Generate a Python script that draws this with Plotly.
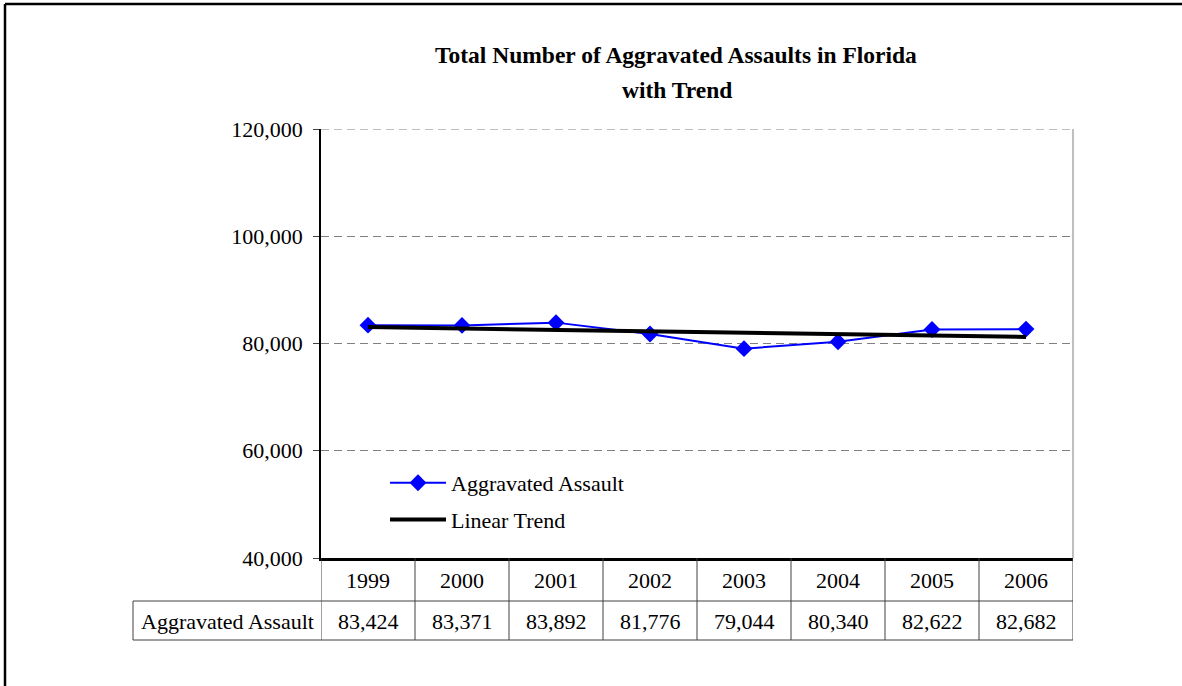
import numpy as np
import plotly.graph_objects as go

# ---------------- data ----------------
years = ["1999", "2000", "2001", "2002", "2003", "2004", "2005", "2006"]
assaults = [83424, 83371, 83892, 81776, 79044, 80340, 82622, 82682]
ytick_vals = [40000, 60000, 80000, 100000, 120000]
ytick_text = ["40,000", "60,000", "80,000", "100,000", "120,000"]
series_name = "Aggravated Assault"
trend_name = "Linear Trend"
title_line1 = "Total Number of Aggravated Assaults in Florida"
title_line2 = "with Trend"

# linear trend (least squares) over the series
idx = np.arange(len(assaults))
coef = np.polyfit(idx, assaults, 1)
trend = np.polyval(coef, idx)

# ---------------- layout geometry ----------------
W, H = 1182, 686
L, R, T, B = 321, 109, 129, 128
PW, PH = W - L - R, H - T - B


def py(p):
    return (H - B - p) / PH


def px(p):
    return (p - L) / PW


FONT = "Liberation Serif, Times New Roman, serif"
GRID = "#808080"
TBL = "#404040"

fig = go.Figure()
fig.add_trace(go.Scatter(
    x=years, y=assaults, name=series_name, mode="lines+markers",
    line=dict(color="#0000FF", width=2),
    marker=dict(symbol="diamond", size=13, color="#0000FF"),
    legendgroup="a",
))
fig.add_trace(go.Scatter(
    x=years, y=trend, name=trend_name, mode="lines",
    line=dict(color="#000000", width=4),
    legendgroup="b",
))

shapes = []
# top gridline (at the maximum tick) – plotly skips gridlines on the plot edge
shapes.append(dict(type="line", xref="paper", yref="y", x0=0, x1=1,
                   y0=ytick_vals[-1], y1=ytick_vals[-1],
                   line=dict(color=GRID, width=1, dash="8px,5px"), layer="below"))
# right border of plot area
shapes.append(dict(type="line", xref="paper", yref="paper", x0=1, x1=1, y0=0, y1=1,
                   line=dict(color=GRID, width=1)))
# table: vertical cell lines
for k in range(len(years) + 1):
    shapes.append(dict(type="line", xref="x", yref="paper", x0=k - 0.5, x1=k - 0.5,
                       y0=py(558), y1=py(640), line=dict(color=TBL, width=1)))
# table horizontal lines
for yy in (601, 640):
    shapes.append(dict(type="line", xref="paper", yref="paper", x0=px(133), x1=1,
                       y0=py(yy), y1=py(yy), line=dict(color=TBL, width=1)))
# label cell left edge
shapes.append(dict(type="line", xref="paper", yref="paper", x0=px(133), x1=px(133),
                   y0=py(601), y1=py(640), line=dict(color=TBL, width=1)))
# outer border (left + top visible)
shapes.append(dict(type="line", xref="paper", yref="paper", x0=px(5), x1=px(5),
                   y0=py(4), y1=py(700), line=dict(color="black", width=2.5)))
shapes.append(dict(type="line", xref="paper", yref="paper", x0=px(5), x1=px(1200),
                   y0=py(4), y1=py(4), line=dict(color="black", width=2.5)))

annotations = []
for i, (yr, v) in enumerate(zip(years, assaults)):
    annotations.append(dict(x=i, xref="x", y=py(580), yref="paper", text=yr,
                            showarrow=False, font=dict(family=FONT, size=22, color="black"),
                            xanchor="center", yanchor="middle"))
    annotations.append(dict(x=i, xref="x", y=py(621), yref="paper", text=f"{v:,}",
                            showarrow=False, font=dict(family=FONT, size=22, color="black"),
                            xanchor="center", yanchor="middle"))
annotations.append(dict(x=px(227), xref="paper", y=py(621), yref="paper", text=series_name,
                        showarrow=False, font=dict(family=FONT, size=22, color="black"),
                        xanchor="center", yanchor="middle"))
annotations.append(dict(x=px(676), xref="paper", y=py(55), yref="paper", text="<b>" + title_line1 + "</b>",
                        showarrow=False, font=dict(family=FONT, size=23.5, color="black"),
                        xanchor="center", yanchor="middle"))
annotations.append(dict(x=px(677), xref="paper", y=py(90), yref="paper", text="<b>" + title_line2 + "</b>",
                        showarrow=False, font=dict(family=FONT, size=23.5, color="black"),
                        xanchor="center", yanchor="middle"))

fig.update_layout(
    width=W, height=H,
    margin=dict(l=L, r=R, t=T, b=B, pad=0),
    paper_bgcolor="white", plot_bgcolor="white",
    font=dict(family=FONT, size=22, color="black"),
    showlegend=True,
    legend=dict(x=px(385), y=py(462), xanchor="left", yanchor="top",
                bgcolor="rgba(0,0,0,0)", font=dict(family=FONT, size=22, color="black"),
                tracegroupgap=5, itemwidth=56),
    xaxis=dict(type="category", range=[-0.5, len(years) - 0.5], showgrid=False,
               showticklabels=False, ticks="", showline=True, linecolor="black",
               linewidth=2.5, zeroline=False, fixedrange=True),
    yaxis=dict(range=[40000, 120000], tickvals=ytick_vals, ticktext=ytick_text,
               ticks="outside", ticklen=6, tickcolor=TBL, tickwidth=1,
               ticklabelstandoff=6,
               showline=True, linecolor="black", linewidth=1.5,
               showgrid=True, gridcolor=GRID, gridwidth=1, griddash="8px,5px",
               zeroline=False, tickfont=dict(family=FONT, size=22, color="black"),
               fixedrange=True),
    shapes=shapes,
    annotations=annotations,
)

fig.write_html("out.html", config={"displayModeBar": False},
               post_script="document.body.style.margin='0';")
